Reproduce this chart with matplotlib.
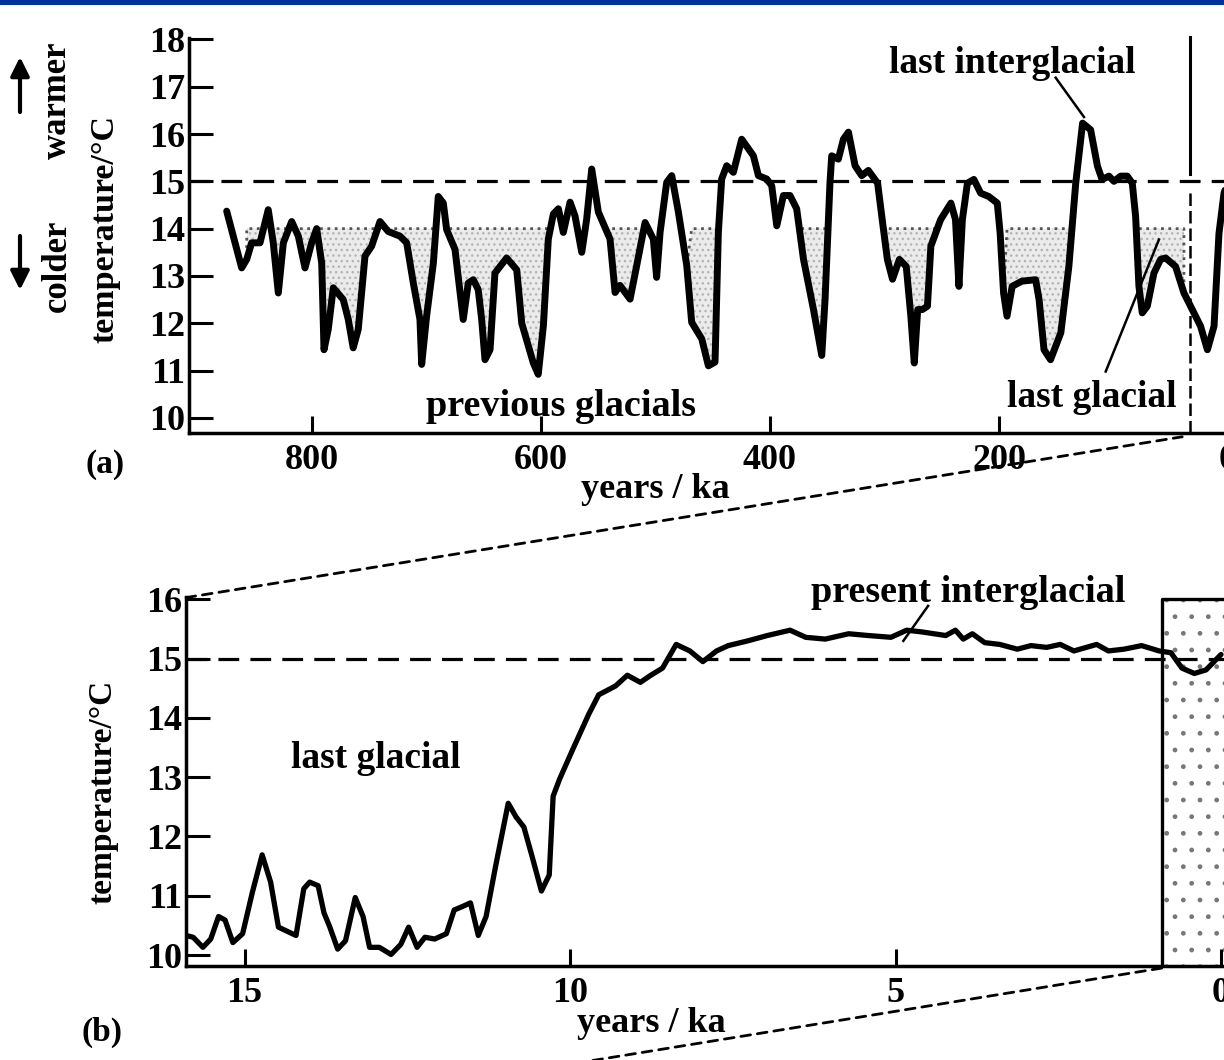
import matplotlib
matplotlib.use("Agg")
import matplotlib.pyplot as plt
from matplotlib.patches import Rectangle, ConnectionPatch
import numpy as np

# (a) last ~900 ka
ka_a = [874.5, 861.4, 857.0, 852.7, 845.4, 838.2, 833.8, 829.4, 825.0, 817.7,
        811.9, 806.1, 800.3, 795.9, 791.5, 789.5, 785.8, 781.4, 772.7, 768.3,
        764.0, 759.6, 753.7, 747.9, 740.6, 733.4, 723.1, 717.3, 711.5, 705.7,
        704.2, 699.9, 694.0, 689.7, 685.3, 682.4, 675.1, 667.9, 663.5, 659.1,
        654.8, 651.8, 648.9, 644.5, 640.2, 630.0, 621.2, 616.8, 606.7, 602.4,
        597.9, 593.6, 589.2, 584.8, 580.5, 574.6, 570.3, 564.4, 560.1, 555.7,
        549.9, 539.7, 535.3, 531.0, 522.2, 516.4, 509.1, 501.9, 499.0, 496.0,
        490.2, 485.8, 480.0, 472.7, 468.4, 459.6, 453.8, 448.0, 445.1, 442.2,
        437.8, 432.0, 424.7, 414.5, 410.1, 402.9, 398.5, 394.1, 388.3, 382.5,
        376.7, 370.8, 362.1, 354.8, 351.9, 347.6, 346.1, 340.3, 335.9, 331.5,
        325.7, 319.9, 314.1, 306.0, 302.0, 297.5, 293.0, 287.0, 281.0, 277.0,
        274.0, 271.0, 267.0, 262.5, 259.5, 251.0, 242.0, 238.0, 235.0, 232.0,
        227.6, 222.0, 216.0, 209.0, 201.5, 199.0, 196.0, 193.0, 188.5, 180.0,
        168.0, 165.0, 160.7, 155.0, 146.0, 139.0, 133.0, 127.0, 120.0, 114.0,
        110.0, 104.0, 99.6, 93.8, 88.0, 83.6, 80.7, 77.8, 74.9, 70.5,
        64.7, 58.9, 54.5, 45.8, 38.5, 29.8, 24.0, 18.0, 12.2, 7.9,
        3.5, 0.0]
temp_a = [14.37, 13.17, 13.35, 13.70, 13.70, 14.40, 13.70, 12.64, 13.70, 14.15,
          13.84, 13.17, 13.70, 14.00, 13.27, 11.44, 11.87, 12.75, 12.50, 12.08,
          11.48, 11.87, 13.42, 13.63, 14.15, 13.94, 13.84, 13.70, 12.85, 12.08,
          11.13, 12.15, 13.27, 14.68, 14.54, 13.98, 13.56, 12.08, 12.85, 12.92,
          12.71, 12.08, 11.23, 11.44, 13.06, 13.38, 13.13, 12.00, 11.16, 10.92,
          11.95, 13.78, 14.31, 14.42, 13.92, 14.56, 14.27, 13.50, 14.20, 15.26,
          14.35, 13.78, 12.65, 12.80, 12.51, 13.22, 14.13, 13.78, 12.97, 13.92,
          14.98, 15.12, 14.35, 13.22, 12.02, 11.67, 11.10, 11.18, 13.92, 15.05,
          15.33, 15.19, 15.89, 15.54, 15.12, 15.05, 14.91, 14.06, 14.70, 14.70,
          14.42, 13.36, 12.30, 11.32, 12.51, 14.98, 15.54, 15.47, 15.89, 16.04,
          15.33, 15.12, 15.23, 14.96, 14.19, 13.35, 12.93, 13.35, 13.20, 12.15,
          11.16, 12.29, 12.29, 12.36, 13.63, 14.19, 14.54, 14.19, 12.78, 14.19,
          14.96, 15.04, 14.75, 14.68, 14.54, 13.90, 12.64, 12.15, 12.78, 12.89,
          12.92, 12.50, 11.44, 11.23, 11.80, 13.20, 14.96, 16.23, 16.09, 15.32,
          15.04, 15.11, 15.00, 15.11, 15.11, 14.96, 14.26, 12.78, 12.22, 12.36,
          13.06, 13.35, 13.38, 13.20, 12.64, 12.22, 11.94, 11.44, 11.94, 13.90,
          14.75, 15.00]

# stippled glacial periods in (a), ka ranges
glacial_spans = [(860, 588), (541, 514), (471, 446), (372, 349),
                 (300, 256), (194, 134), (82, 30)]

# (b) last 16 ka
ka_b = [15.90, 15.79, 15.64, 15.52, 15.40, 15.30, 15.18, 15.03, 14.88, 14.73,
        14.60, 14.48, 14.21, 14.09, 14.00, 13.87, 13.78, 13.69, 13.57, 13.45,
        13.30, 13.18, 13.08, 12.93, 12.75, 12.60, 12.48, 12.35, 12.23, 12.08,
        11.90, 11.78, 11.65, 11.53, 11.41, 11.29, 11.14, 10.95, 10.83, 10.71,
        10.59, 10.44, 10.32, 10.26, 10.16, 9.95, 9.71, 9.56, 9.30, 9.12,
        8.92, 8.76, 8.58, 8.37, 8.16, 7.96, 7.75, 7.57, 7.27, 6.97,
        6.62, 6.38, 6.08, 5.72, 5.42, 5.07, 4.83, 4.59, 4.23, 4.08,
        3.96, 3.82, 3.63, 3.40, 3.13, 2.92, 2.68, 2.47, 2.26, 1.91,
        1.73, 1.49, 1.22, 0.95, 0.77, 0.60, 0.41, 0.23, 0.00]
temp_b = [10.33, 10.30, 10.13, 10.27, 10.65, 10.59, 10.21, 10.36, 11.06, 11.69,
          11.23, 10.47, 10.33, 11.12, 11.23, 11.17, 10.71, 10.47, 10.10, 10.24,
          10.97, 10.65, 10.13, 10.13, 10.01, 10.18, 10.47, 10.13, 10.30, 10.27,
          10.36, 10.76, 10.82, 10.88, 10.33, 10.65, 11.52, 12.56, 12.33, 12.16,
          11.69, 11.08, 11.35, 12.68, 12.97, 13.49, 14.07, 14.39, 14.54, 14.72,
          14.60, 14.72, 14.84, 15.24, 15.13, 14.95, 15.13, 15.22, 15.30, 15.39,
          15.48, 15.36, 15.33, 15.42, 15.39, 15.36, 15.48, 15.45, 15.39, 15.48,
          15.33, 15.42, 15.27, 15.24, 15.16, 15.22, 15.19, 15.24, 15.13, 15.24,
          15.13, 15.16, 15.22, 15.13, 15.10, 14.84, 14.75, 14.81, 15.07]

yticks_a = [10, 11, 12, 13, 14, 15, 16, 17, 18]
xticks_a = [800, 600, 400, 200, 0]
yticks_b = [10, 11, 12, 13, 14, 15, 16]
xticks_b = [15, 10, 5, 0]

FONT = "Liberation Serif"
plt.rcParams["font.family"] = FONT
plt.rcParams["font.weight"] = "bold"
plt.rcParams["hatch.linewidth"] = 1.0

W, H = 1224, 1060
fig = plt.figure(figsize=(W / 100, H / 100), dpi=100)

def px(x, y):
    return x / W, 1 - y / H

ax_a = fig.add_axes([189 / W, 1 - 433 / H, (1280 - 189) / W, (433 - 38) / H])
ax_b = fig.add_axes([186 / W, 1 - 966 / H, (1280 - 186) / W, (966 - 597) / H])

def style(ax):
    for s in ["top", "right"]:
        ax.spines[s].set_visible(False)
    for s in ["left", "bottom"]:
        ax.spines[s].set_linewidth(2.5)
    ax.tick_params(axis="y", direction="in", length=17, width=2.2, pad=3,
                   labelsize=26)
    ax.tick_params(axis="x", direction="in", length=12, width=2.2, pad=8,
                   labelsize=26)
    ax.patch.set_alpha(0)

# ---- panel (a)
ka_a = np.array(ka_a)
temp_a = np.array(temp_a)
ax_a.set_xlim(907.4, -45.4)
ax_a.set_ylim(9.68, 18.03)
for lo_hi in glacial_spans:
    m = (ka_a <= lo_hi[0]) & (ka_a >= lo_hi[1])
    ax_a.fill_between(ka_a, temp_a, 14, where=m & (temp_a < 14.0),
                      interpolate=True, facecolor="#ebebeb", hatch="...",
                      edgecolor="#b4b4b4", lw=0, zorder=1)
    ax_a.fill_between(ka_a, temp_a, 14, where=m & (temp_a < 14.0),
                      interpolate=True, facecolor="none", edgecolor="#555555",
                      lw=2.0, ls=":", zorder=1)
ax_a.axhline(15, color="k", lw=2.3, ls=(0, (6.5, 3.5)), zorder=2)
ax_a.plot(ka_a, temp_a, color="k", lw=5, solid_joinstyle="round",
          solid_capstyle="round", zorder=3)
# marker of the start of the last glacial
ax_a.plot([33, 33], [15.15, 18.05], color="k", lw=2.2, clip_on=False)
ax_a.plot([33, 33], [9.68, 14.85], color="k", lw=1.8, ls=(0, (5, 2)))
ax_a.set_xticks(xticks_a)
ax_a.set_yticks(yticks_a)
style(ax_a)

ax_a.text(188.6, 17.5, "last interglacial", fontsize=27, ha="center", va="center")
ax_a.plot([150.5, 125.8], [17.19, 16.36], color="k", lw=1.8)
ax_a.text(118.8, 10.43, "last glacial", fontsize=27, ha="center", va="center")
ax_a.plot([106.8, 60.3], [10.98, 13.77], color="k", lw=1.8)
ax_a.text(582.5, 10.24, "previous glacials", fontsize=27.5, ha="center",
          va="center")

# ---- panel (b)
ax_b.set_xlim(15.9, -0.906)
ax_b.set_ylim(9.815, 16.04)
ax_b.fill_between([0.91, -0.906], 9.815, 16.0, facecolor="white", hatch=".",
                  edgecolor="#777777", lw=0, zorder=1)
ax_b.plot([0.91, 0.91, -0.906], [9.815, 16.0, 16.0], color="k", lw=2.4,
          zorder=2)
ax_b.axhline(15, color="k", lw=2.3, ls=(0, (6.5, 3.5)), zorder=2)
ax_b.plot(ka_b, temp_b, color="k", lw=3.8, solid_joinstyle="round",
          solid_capstyle="round", zorder=3)
ax_b.set_xticks(xticks_b)
ax_b.set_yticks(yticks_b)
style(ax_b)

ax_b.text(3.89, 16.12, "present interglacial", fontsize=27.5, ha="center",
          va="center", clip_on=False)
ax_b.plot([4.5, 4.88], [15.89, 15.3], color="k", lw=1.8)
ax_b.text(12.99, 13.32, "last glacial", fontsize=27, ha="center", va="center")

# zoom connectors
dash = (0, (3.5, 2.5))
fig.add_artist(ConnectionPatch(xyA=(15.9, 16.03), coordsA=ax_b.transData,
                               xyB=(40, 9.6), coordsB=ax_a.transData,
                               ls=dash, lw=2.0, color="k"))
fig.add_artist(ConnectionPatch(xyA=(0.91, 9.78), coordsA=ax_b.transData,
                               xyB=(0.38, -0.02), coordsB="figure fraction",
                               ls=dash, lw=2.0, color="k"))

# labels
fig.text(*px(105, 229), "temperature/°C", rotation=90, fontsize=24.5,
         ha="center", va="center")
fig.text(*px(57, 266), "colder", rotation=90, fontsize=25, ha="center",
         va="center")
fig.text(*px(57, 100), "warmer", rotation=90, fontsize=25, ha="center",
         va="center")
fig.text(*px(103, 792), "temperature/°C", rotation=90, fontsize=24,
         ha="center", va="center")
fig.text(*px(655, 490), "years / ka", fontsize=26, ha="center", va="center")
fig.text(*px(651, 1023), "years / ka", fontsize=26, ha="center", va="center")
fig.text(*px(105, 465), "(a)", fontsize=24, ha="center", va="center")
fig.text(*px(102, 1032), "(b)", fontsize=24, ha="center", va="center")

arrow = dict(arrowstyle="-|>", lw=3, mutation_scale=28, color="k",
             shrinkA=0, shrinkB=0)
fig.add_artist(plt.Annotation("", xy=px(20, 57), xytext=px(20, 112),
                              xycoords="figure fraction",
                              textcoords="figure fraction", arrowprops=arrow))
fig.add_artist(plt.Annotation("", xy=px(20, 290), xytext=px(20, 236),
                              xycoords="figure fraction",
                              textcoords="figure fraction", arrowprops=arrow))

# blue strip along the top
fig.add_artist(Rectangle((0, 1 - 5 / H), 1, 5 / H, transform=fig.transFigure,
                         color="#003399", lw=0))

fig.savefig("out.png", dpi=100)
